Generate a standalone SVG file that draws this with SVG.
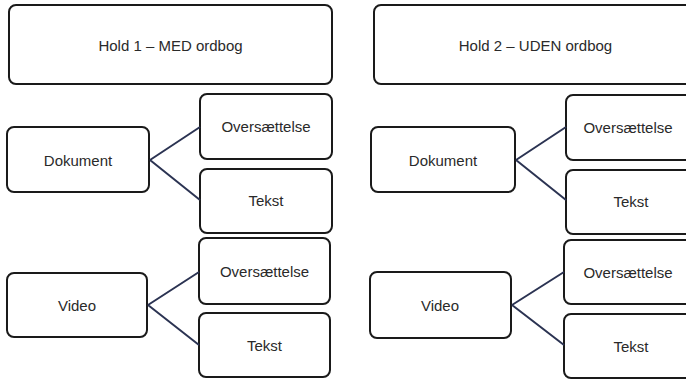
<svg xmlns="http://www.w3.org/2000/svg" width="686" height="379" viewBox="0 0 686 379">
<style>
.box{fill:#fff;stroke:#1a1a1a;stroke-width:2}
.t{font-family:"Liberation Sans",Arial,sans-serif;font-size:15px;fill:#2a2a2a;text-anchor:middle;dominant-baseline:central}
.c{stroke:#2b3352;stroke-width:2;fill:none}
</style>
<rect width="686" height="379" fill="#fff"/>
<g id="hold1"><rect class="box" x="9" y="5" width="323" height="79" rx="7"/><text class="t" x="170.5" y="45">Hold 1 – MED ordbog</text></g>
<g id="hold2"><rect class="box" x="374" y="5" width="323" height="79" rx="7"/><text class="t" x="535.5" y="45">Hold 2 – UDEN ordbog</text></g>
<g id="dok1"><rect class="box" x="7" y="127" width="142" height="65" rx="7"/><text class="t" x="78" y="160">Dokument</text></g>
<g id="ov1"><rect class="box" x="200" y="94" width="132" height="65" rx="7"/><text class="t" x="266" y="126">Oversættelse</text></g>
<g id="tek1"><rect class="box" x="200" y="169" width="132" height="64" rx="7"/><text class="t" x="266" y="200">Tekst</text></g>
<g id="vid1"><rect class="box" x="7" y="273" width="140" height="64" rx="7"/><text class="t" x="77" y="305">Video</text></g>
<g id="ov2"><rect class="box" x="199" y="238" width="131" height="66" rx="7"/><text class="t" x="264.5" y="271">Oversættelse</text></g>
<g id="tek2"><rect class="box" x="199" y="313" width="131" height="64" rx="7"/><text class="t" x="264.5" y="345">Tekst</text></g>
<g id="dok2"><rect class="box" x="371" y="127" width="144" height="65" rx="7"/><text class="t" x="443" y="160">Dokument</text></g>
<g id="ov3"><rect class="box" x="566" y="95" width="132" height="65" rx="7"/><text class="t" x="628" y="127">Oversættelse</text></g>
<g id="tek3"><rect class="box" x="566" y="170" width="132" height="64" rx="7"/><text class="t" x="631" y="201">Tekst</text></g>
<g id="vid2"><rect class="box" x="370" y="272" width="141" height="66" rx="7"/><text class="t" x="440" y="305">Video</text></g>
<g id="ov4"><rect class="box" x="564" y="240" width="134" height="64" rx="7"/><text class="t" x="628" y="272">Oversættelse</text></g>
<g id="tek4"><rect class="box" x="564" y="314" width="134" height="64" rx="7"/><text class="t" x="631" y="346">Tekst</text></g>
<g id="connectors">
<path class="c" d="M150 160 L200 127 M150 160 L200 200"/>
<path class="c" d="M148 305 L199 272 M148 305 L199 345"/>
<path class="c" d="M516 160 L566 127 M516 160 L566 200"/>
<path class="c" d="M512 305 L564 272 M512 305 L564 345"/>
</g>
</svg>
